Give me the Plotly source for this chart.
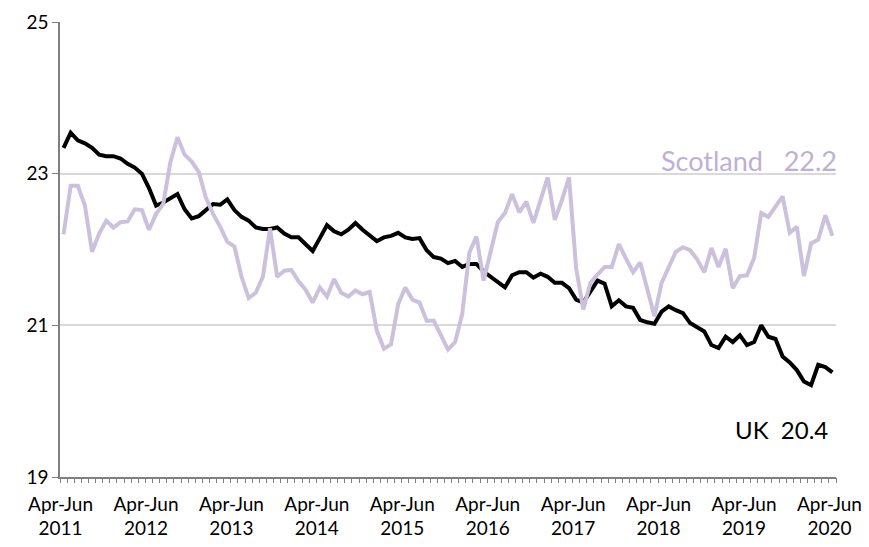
import plotly.graph_objects as go

years = list(range(2011, 2021))
tick_labels = [f"Apr-Jun<br>{y}" for y in years]

uk = [23.34, 23.54, 23.44, 23.40, 23.34, 23.25, 23.23, 23.23, 23.20, 23.13,
      23.08, 23.00, 22.81, 22.58, 22.62, 22.68, 22.73, 22.53, 22.41, 22.44,
      22.52, 22.60, 22.59, 22.66, 22.52, 22.43, 22.38, 22.29, 22.27, 22.27,
      22.29, 22.21, 22.16, 22.16, 22.07, 21.98, 22.15, 22.32, 22.24, 22.20,
      22.26, 22.35, 22.26, 22.19, 22.11, 22.16, 22.18, 22.22, 22.16, 22.14,
      22.15, 21.99, 21.90, 21.88, 21.82, 21.85, 21.77, 21.81, 21.81, 21.71,
      21.64, 21.57, 21.50, 21.66, 21.70, 21.70, 21.63, 21.68, 21.64, 21.56,
      21.56, 21.49, 21.34, 21.30, 21.44, 21.59, 21.55, 21.25, 21.33, 21.25,
      21.23, 21.07, 21.04, 21.02, 21.18, 21.25, 21.20, 21.16, 21.03, 20.98,
      20.92, 20.74, 20.70, 20.85, 20.78, 20.87, 20.74, 20.78, 21.00, 20.85,
      20.82, 20.59, 20.51, 20.41, 20.26, 20.21, 20.48, 20.45, 20.38]

scotland = [22.20, 22.84, 22.84, 22.58, 21.97, 22.21, 22.38, 22.29, 22.36, 22.37,
            22.53, 22.52, 22.26, 22.47, 22.60, 23.15, 23.48, 23.25, 23.16, 23.02,
            22.68, 22.47, 22.30, 22.10, 22.04, 21.64, 21.36, 21.43, 21.64, 22.28,
            21.64, 21.72, 21.73, 21.58, 21.47, 21.30, 21.50, 21.38, 21.61, 21.43,
            21.38, 21.46, 21.41, 21.44, 20.93, 20.69, 20.75, 21.28, 21.50, 21.34,
            21.30, 21.06, 21.06, 20.86, 20.68, 20.78, 21.15, 21.96, 22.17, 21.59,
            21.95, 22.36, 22.48, 22.73, 22.49, 22.63, 22.35, 22.65, 22.95, 22.39,
            22.65, 22.95, 21.75, 21.21, 21.56, 21.67, 21.77, 21.77, 22.07, 21.88,
            21.70, 21.83, 21.49, 21.12, 21.56, 21.77, 21.97, 22.03, 21.99, 21.87,
            21.70, 22.02, 21.77, 22.01, 21.49, 21.65, 21.66, 21.89, 22.48, 22.43,
            22.57, 22.70, 22.22, 22.30, 21.65, 22.08, 22.13, 22.45, 22.18]

n = len(uk)
x = list(range(n))
tick_positions = list(range(0, n, 12))
boundaries = [i - 0.5 for i in range(n + 1)]

FONT = "Lato"
SCOT_LINE = "#CCC1DD"
SCOT_TEXT = "#BEB0D5"

fig = go.Figure()
fig.add_trace(go.Scatter(x=x, y=uk, mode="lines", name="UK",
                         line=dict(color="#000000", width=4), hoverinfo="skip"))
fig.add_trace(go.Scatter(x=x, y=scotland, mode="lines", name="Scotland",
                         line=dict(color=SCOT_LINE, width=4), hoverinfo="skip"))

fig.add_annotation(text="Scotland   22.2", xref="paper", yref="y",
                   x=1.004, y=23.17, xanchor="right", yanchor="middle",
                   showarrow=False, font=dict(family=FONT, size=27, color=SCOT_TEXT))
fig.add_annotation(text="UK  20.4", xref="paper", yref="y",
                   x=0.992, y=19.63, xanchor="right", yanchor="middle",
                   showarrow=False, font=dict(family=FONT, size=24, color="#000000"))

fig.update_layout(
    width=861, height=539,
    margin=dict(l=52, r=33, t=14, b=70, autoexpand=False),
    paper_bgcolor="white", plot_bgcolor="white",
    showlegend=False,
    font=dict(family=FONT, size=19, color="#000000"),
    xaxis=dict(
        range=[-0.5, n - 0.5], automargin=False,
        tickmode="array", tickvals=tick_positions, ticktext=tick_labels,
        ticks="", ticklabelstandoff=9, ticklabelshift=-3,
        showline=True, linecolor="#808080", linewidth=1.5,
        showgrid=False, zeroline=False,
        tickfont=dict(family=FONT, size=19, color="#000000"),
    ),
    xaxis2=dict(
        overlaying="x", side="bottom", range=[-0.5, n - 0.5], automargin=False,
        tickmode="array", tickvals=boundaries, ticks="outside", ticklen=5,
        tickcolor="#808080", tickwidth=1, showticklabels=False,
        showline=False, showgrid=False, zeroline=False,
    ),
    yaxis=dict(
        range=[19, 25], tickmode="linear", tick0=19, dtick=2, automargin=False,
        ticks="outside", ticklen=6, tickcolor="#808080",
        showline=True, linecolor="#808080", linewidth=1.5,
        showgrid=True, gridcolor="#D9D9D9", gridwidth=1.5, zeroline=False,
        tickfont=dict(family=FONT, size=19, color="#000000"),
    ),
)
fig.add_trace(go.Scatter(x=[None], y=[None], xaxis="x2", yaxis="y",
                         showlegend=False, hoverinfo="skip"))

fig.write_html("out.html")
